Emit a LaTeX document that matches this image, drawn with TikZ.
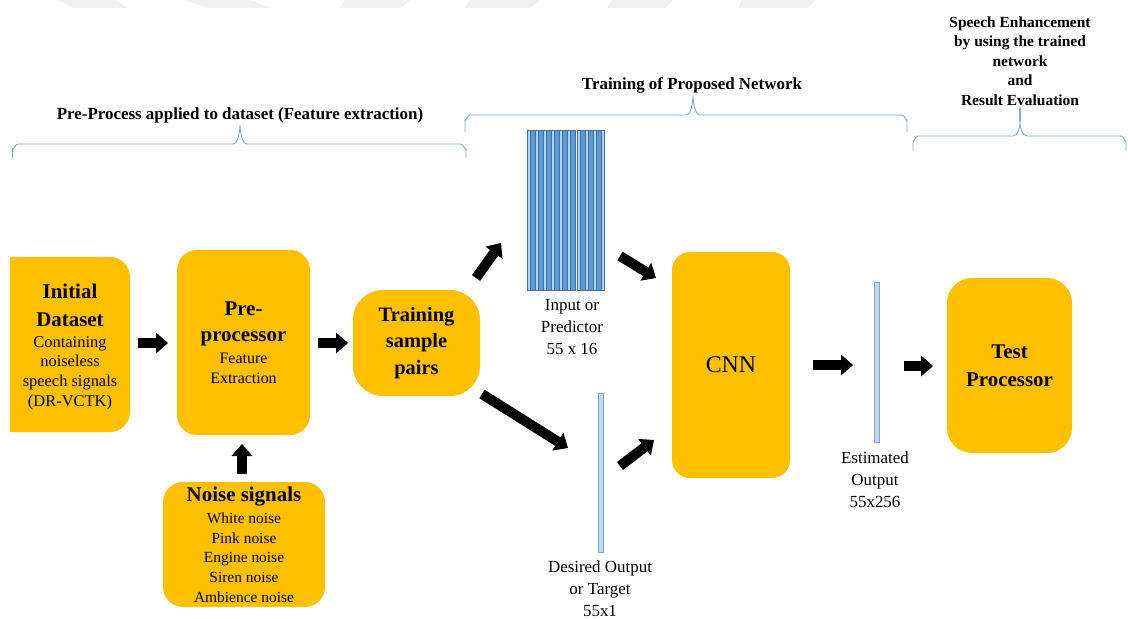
\documentclass[tikz,border=0pt]{standalone}
\usepackage{fontspec}
\setmainfont{Liberation Serif}
\usetikzlibrary{arrows.meta}
\definecolor{boxorange}{HTML}{FFC000}
\definecolor{barfill}{HTML}{BDD7EE}
\definecolor{barline}{HTML}{7FA7D4}
\definecolor{stripeL}{HTML}{B4D2EE}
\definecolor{stripeD}{HTML}{5B9BD5}
\definecolor{stripeE}{HTML}{41719C}
\definecolor{bracecol}{HTML}{7FA9D9}
\definecolor{wm}{HTML}{F0F0F0}
\begin{document}
\begin{tikzpicture}[x=1bp,y=-1bp,
  box/.style={fill=boxorange, rounded corners=#1, inner sep=0pt, align=center},
  box/.default=20bp,
  blk/.style={line width=10bp, -{Triangle[length=12bp,width=21bp,line width=0bp]}},
  brace/.style={draw=bracecol, line width=0.9bp},
  lbl/.style={align=center, inner sep=0pt, font=\fontsize{17}{22}\selectfont},
  ttl/.style={align=center, inner sep=0pt, font=\fontsize{17}{21}\selectfont\bfseries},
  bar/.style={fill=barfill, draw=barline, line width=0.8bp, inner sep=0pt, minimum width=5bp},
  wmark/.style={fill=wm, draw=none},
  stripe/.style={draw=stripeE, line width=0.35bp},
]
\useasboundingbox (0,0) rectangle (1128,619);
\fill[white] (0,0) rectangle (1128,619);

% faint watermark shapes at the top
\fill[wmark] (58,0) -- (115,0) -- (127,8) -- (73,8) -- cycle;
\fill[wmark] (185,0) -- (250,0) -- (270,8) -- (208,8) -- cycle;
\fill[wmark] (345,0) -- (410,0) -- (400,8) -- (340,8) -- cycle;
\fill[wmark] (470,0) -- (540,0) -- (530,8) -- (465,8) -- cycle;
\fill[wmark] (612,0) -- (673,0) -- (665,8) -- (607,8) -- cycle;
\fill[wmark] (742,0) -- (815,0) -- (808,8) -- (738,8) -- cycle;

% titles
\node[ttl, anchor=base] (t1) at (240,120) {Pre-Process applied to dataset (Feature extraction)};
\node[ttl, anchor=base] (t2) at (692,90) {Training of Proposed Network};
\node[ttl, font=\fontsize{15.5}{19.5}\selectfont\bfseries] (t3) at (1020,61)
  {Speech Enhancement\\by using the trained\\network\\and\\Result Evaluation};

% braces
\draw[brace] (12.5,158) -- (12.5,149) to[out=-90,in=180] (18,144) -- (233,144)
  to[out=0,in=90] (240,127) to[out=90,in=180] (247,144) -- (460.5,144)
  to[out=0,in=-90] (466,149) -- (466,158);
\draw[brace] (465,132) -- (465,120) to[out=-90,in=180] (470,115) -- (686,115)
  to[out=0,in=90] (693,97) to[out=90,in=180] (700,115) -- (902,115)
  to[out=0,in=-90] (907,120) -- (907,132);
\draw[brace] (913,151) -- (913,141) to[out=-90,in=180] (918,136) -- (1013,136)
  to[out=0,in=90] (1020,110) to[out=90,in=180] (1027,136) -- (1121,136)
  to[out=0,in=-90] (1126,141) -- (1126,151);

% initial dataset box (cut at the left)
\begin{scope}
  \clip (10,0) rectangle (300,619);
  \fill[boxorange, rounded corners=20bp] (-10,257) rectangle (130,432);
\end{scope}
\node[align=center, inner sep=0pt, font=\fontsize{16.5}{20}\selectfont] (init) at (70,347)
  {{\fontsize{21}{26}\selectfont\bfseries Initial}\\[8bp]{\fontsize{21}{26}\selectfont\bfseries Dataset}\\[1bp]Containing\\noiseless\\speech signals\\(DR-VCTK)};

% pre-processor
\node[box=20bp, minimum width=133bp, minimum height=185bp, font=\fontsize{16}{20}\selectfont] (pre) at (243.5,342.5)
  {{\fontsize{21}{26}\selectfont\bfseries Pre-}\\[6bp]{\fontsize{21}{26}\selectfont\bfseries processor}\\[2bp]Feature\\Extraction};

% noise signals
\node[box=20bp, minimum width=162bp, minimum height=125bp, font=\fontsize{15.5}{19.7}\selectfont] (noise) at (244,544.5)
  {{\fontsize{21}{26}\selectfont\bfseries Noise signals}\\[3bp]White noise\\Pink noise\\Engine noise\\Siren noise\\Ambience noise};

% training sample pairs
\node[box=30bp, minimum width=127bp, minimum height=106bp, font=\fontsize{20.5}{27}\selectfont\bfseries] (train) at (416.5,343)
  {Training\\sample\\pairs};

% input / predictor stripes
\foreach \xa in {527,535,543,551,559,567} {
  \filldraw[stripe, fill=stripeL] (\xa,130) rectangle ++(3,160);
  \filldraw[stripe, fill=stripeD] (\xa+3,130) rectangle ++(5,160);
}
\foreach \xa in {577.5,585.5,593.5} {
  \filldraw[stripe, fill=stripeL] (\xa,130) rectangle ++(3,160);
  \filldraw[stripe, fill=stripeD] (\xa+3,130) rectangle ++(5,160);
}
\filldraw[stripe, fill=stripeL] (601.5,130) rectangle ++(2.5,160);
\node[inner sep=0pt, minimum width=77bp, minimum height=160bp] (inp) at (565.5,210) {};
\node[lbl] (inplbl) at (572,327) {Input or\\Predictor\\55 x 16};

% desired output bar
\node[bar, minimum height=159bp] (tgt) at (600.5,472.5) {};
\node[lbl] (tgtlbl) at (600,588.5) {Desired Output\\or Target\\55x1};

% CNN
\node[box=18bp, minimum width=118bp, minimum height=226bp, font=\fontsize{24}{28}\selectfont] (cnn) at (731,365) {CNN};

% estimated output bar
\node[bar, minimum height=160bp] (est) at (876.5,362) {};
\node[lbl] (estlbl) at (875,480) {Estimated\\Output\\55x256};

% test processor
\node[box=25bp, minimum width=125bp, minimum height=175bp, font=\fontsize{21}{28}\selectfont\bfseries] (test) at (1009.5,365.5)
  {Test\\Processor};

% arrow end points
\coordinate (a1s) at (138,343);  \coordinate (a1e) at (168,343);
\coordinate (a2s) at (318,343);  \coordinate (a2e) at (348,343);
\coordinate (a3s) at (242,474);  \coordinate (a3e) at (242,444);
\coordinate (a4s) at (476,278);  \coordinate (a4e) at (501,243);
\coordinate (a5s) at (482,394);  \coordinate (a5e) at (568,448);
\coordinate (a6s) at (620,256);  \coordinate (a6e) at (656,278);
\coordinate (a7s) at (620,466);  \coordinate (a7e) at (654,440);
\coordinate (a8s) at (813,365);  \coordinate (a8e) at (853,365);
\coordinate (a9s) at (904,366);  \coordinate (a9e) at (933,366);

\draw[blk] (a1s) -- (a1e);
\draw[blk] (a2s) -- (a2e);
\draw[blk] (a3s) -- (a3e);
\draw[blk] (a4s) -- (a4e);
\draw[blk] (a5s) -- (a5e);
\draw[blk] (a6s) -- (a6e);
\draw[blk] (a7s) -- (a7e);
\draw[blk] (a8s) -- (a8e);
\draw[blk] (a9s) -- (a9e);
\end{tikzpicture}
\end{document}
